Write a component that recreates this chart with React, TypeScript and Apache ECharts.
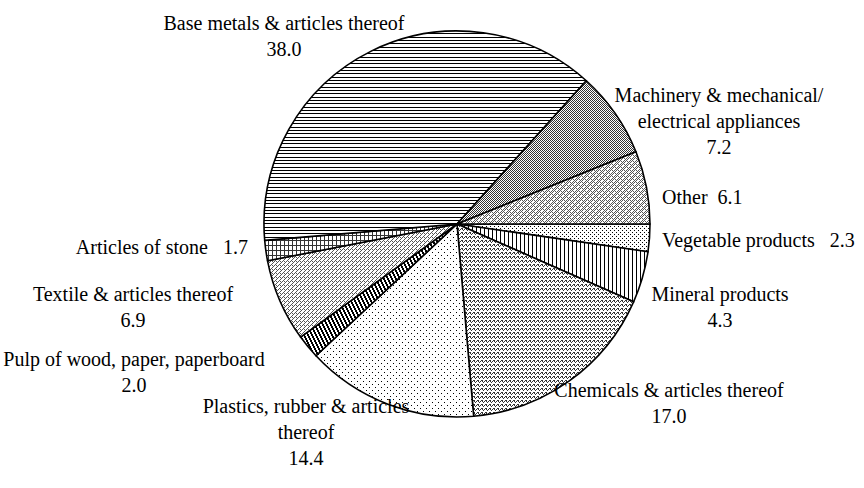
import React, { useEffect, useRef } from "react";
import * as echarts from "echarts";

// ---- data (clockwise from 3 o'clock) ----
const categories = [
  "Vegetable products",
  "Mineral products",
  "Chemicals & articles thereof",
  "Plastics, rubber & articles\nthereof",
  "Pulp of wood, paper, paperboard",
  "Textile & articles thereof",
  "Articles of stone",
  "Base metals & articles thereof",
  "Machinery & mechanical/\nelectrical appliances",
  "Other",
];
const values = [2.3, 4.3, 17.0, 14.4, 2.0, 6.9, 1.7, 38.0, 7.2, 6.1];
const separators = ["   ", "\n", "\n", "\n", "\n", "\n", "   ", "\n", "\n", "  "];

// ---- layout (label anchors) ----
const labelAnchors = [
  { x: 662, y: 227, align: "left" },
  { x: 720, y: 281, align: "center" },
  { x: 669, y: 377, align: "center" },
  { x: 306, y: 393, align: "center" },
  { x: 134, y: 346, align: "center" },
  { x: 133, y: 281, align: "center" },
  { x: 248, y: 234, align: "right" },
  { x: 284, y: 10, align: "center" },
  { x: 719, y: 82, align: "center" },
  { x: 662, y: 184, align: "left" },
];

const FONT = "'Liberation Serif', 'Times New Roman', Times, serif";

type Px = [number, number];
function makePattern(w: number, h: number, pixels: Px[], color = "#000") {
  const c = document.createElement("canvas");
  c.width = w;
  c.height = h;
  const ctx = c.getContext("2d")!;
  ctx.fillStyle = "#fff";
  ctx.fillRect(0, 0, w, h);
  ctx.fillStyle = color;
  pixels.forEach(([x, y]) => ctx.fillRect(x, y, 1, 1));
  return { image: c, repeat: "repeat", imageWidth: w, imageHeight: h } as any;
}

function buildPatterns() {
  const p: any[] = [];
  // Vegetable: small dots
  p.push(makePattern(4, 4, [[0, 0], [2, 2]], "#000"));
  // Mineral: vertical lines
  p.push(makePattern(4, 1, [[0, 0]], "#000"));
  // Chemicals: waves
  p.push(makePattern(4, 4, [[0, 1], [1, 0], [2, 1], [3, 2], [2, 0]], "#333"));
  // Plastics: sparse dots
  p.push(makePattern(6, 6, [[0, 0], [3, 3]], "#000"));
  // Pulp: thick steep diagonal stripes
  const pulp: Px[] = [];
  for (let y = 0; y < 8; y++) {
    const x = Math.floor(y / 2);
    pulp.push([x % 4, y], [(x + 1) % 4, y]);
  }
  p.push(makePattern(4, 8, pulp, "#000"));
  // Textile: diagonal hatch
  p.push(makePattern(4, 4, [[3, 0], [2, 1], [1, 2], [0, 3], [0, 1]], "#555"));
  // Stone: grid
  const grid: Px[] = [];
  for (let y = 0; y < 5; y++) grid.push([0, y]);
  for (let x = 1; x < 4; x++) grid.push([x, 0]);
  p.push(makePattern(4, 5, grid, "#333"));
  // Base metals: horizontal lines
  const hl: Px[] = [];
  [0, 3, 7].forEach((y) => { for (let x = 0; x < 4; x++) hl.push([x, y]); });
  p.push(makePattern(4, 10, hl, "#000"));
  // Machinery: checker
  const mach: Px[] = [];
  for (let y = 0; y < 4; y++) for (let x = 0; x < 4; x++) if ((x + y) % 2 === 0) mach.push([x, y]);
  p.push(makePattern(4, 4, mach, "#333"));
  // Other: lighter checker with white crosses
  const oth: Px[] = [];
  for (let y = 0; y < 6; y++) for (let x = 0; x < 6; x++) {
    if ((x + y) % 2 === 0 && !(x === 1 && y === 1) && !(x === 4 && y === 4) && !(x === 2 && y === 0) && !(x === 5 && y === 3)) oth.push([x, y]);
  }
  p.push(makePattern(6, 6, oth, "#555"));
  return p;
}

export default function App() {
  const ref = useRef<HTMLDivElement>(null);
  useEffect(() => {
    if (!ref.current) return;
    const chart = echarts.init(ref.current, null, { renderer: "svg" });
    const patterns = buildPatterns();
    chart.setOption({
      animation: false,
      backgroundColor: "#fff",
      textStyle: { fontFamily: FONT },
      series: [
        {
          type: "pie",
          center: [457, 224],
          radius: [0, 193],
          startAngle: 0,
          clockwise: true,
          avoidLabelOverlap: false,
          emphasis: { disabled: true },
          itemStyle: { borderColor: "#000", borderWidth: 1.6 },
          labelLine: { show: false },
          label: {
            show: true,
            position: "outside",
            fontFamily: FONT,
            fontSize: 20,
            lineHeight: 26,
            color: "#000",
            formatter: (p: any) => `${p.name}${separators[p.dataIndex]}${Number(p.value).toFixed(1)}`,
          },
          labelLayout: (params: any) => {
            const a = labelAnchors[params.dataIndex];
            return { x: a.x, y: a.y, align: a.align, verticalAlign: "top" };
          },
          data: categories.map((name, i) => ({
            name,
            value: values[i],
            itemStyle: { color: patterns[i] },
            label: { align: labelAnchors[i].align, fontFamily: FONT },
          })),
        },
      ],
    });
    return () => chart.dispose();
  }, []);
  return (
    <div
      ref={ref}
      style={{ position: "fixed", left: 0, top: 0, width: 864, height: 488, background: "#fff" }}
    />
  );
}
